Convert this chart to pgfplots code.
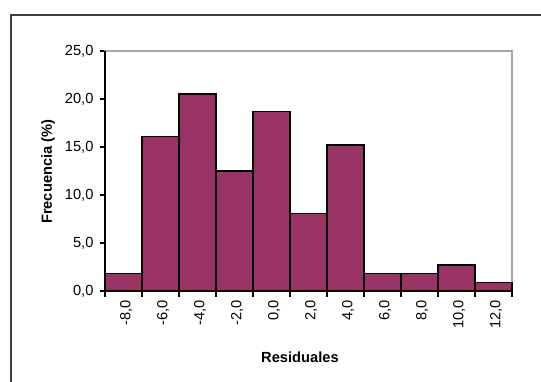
\documentclass[border=0pt]{standalone}
\usepackage{pgfplots}
\pgfplotsset{compat=1.18}
\usepackage{fontspec}
\setmainfont{Liberation Sans}
\definecolor{barcol}{RGB}{153,51,102}
\definecolor{framecol}{RGB}{64,64,64}
\begin{document}
\begin{tikzpicture}[x=0.75pt,y=0.75pt]
\useasboundingbox (0,0) rectangle (541,381);
\draw[framecol,line width=1.5pt] (11,-20) -- (11,366) -- (560,366);
\begin{axis}[
  at={(105*0.75pt,90*0.75pt)}, anchor=south west,
  scale only axis, width=407*0.75pt, height=240*0.75pt,
  xmin=-9, xmax=13, ymin=0, ymax=25,
  ybar, bar width=2,
  axis line style={gray!70, line width=0.8pt},
  xtick={-8,-6,...,12},
  xticklabels={{-8,0},{-6,0},{-4,0},{-2,0},{0,0},{2,0},{4,0},{6,0},{8,0},{10,0},{12,0}},
  major x tick style={draw=none},
  minor xtick={-9,-7,...,13},
  minor x tick style={black, line width=0.8pt},
  ytick={0,5,...,25},
  y tick style={black, line width=0.8pt},
  tick pos=left, tick align=outside,
  major tick length=5.5*0.75pt, minor tick length=5.5*0.75pt,
  yticklabel style={/pgf/number format/fixed, /pgf/number format/fixed zerofill, /pgf/number format/precision=1, /pgf/number format/use comma, /pgf/number format/assume math mode=true, xshift=-1pt},
  ticklabel style={font=\fontsize{11}{13}\selectfont, text=black},
  xticklabel style={rotate=90, anchor=east, yshift=-2pt, xshift=1pt},
  xlabel={\textbf{Residuales}},
  xlabel style={font=\fontsize{11}{13}\selectfont, at={(axis description cs:0.479,0)}, anchor=center, yshift=-66*0.75pt},
  ylabel={\textbf{Frecuencia (\%)}},
  ylabel style={font=\fontsize{11}{13}\selectfont, at={(axis description cs:-0.140,0.497)}, anchor=center},
  clip=false,
]
\addplot[fill=barcol, draw=black, line width=1.1pt] coordinates {
  (-8,1.8) (-6,16.1) (-4,20.5) (-2,12.5) (0,18.7) (2,8.1) (4,15.2) (6,1.8) (8,1.8) (10,2.7) (12,0.9)
};
\draw[black, line width=0.9pt] (rel axis cs:0,1) -- (rel axis cs:0,0) -- (rel axis cs:1,0);
\end{axis}
\end{tikzpicture}
\end{document}
